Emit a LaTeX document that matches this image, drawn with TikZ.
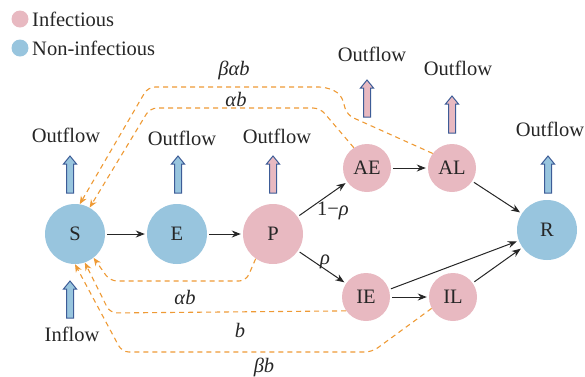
\documentclass[tikz,border=0pt]{standalone}
\usepackage{fontspec}
\setmainfont{Liberation Serif}
\usetikzlibrary{arrows.meta}
\definecolor{cblue}{HTML}{98C5DE}
\definecolor{cpink}{HTML}{E8B9C1}
\definecolor{corange}{HTML}{EE9A35}
\definecolor{cedge}{HTML}{3D5C97}
\tikzset{
  comp/.style={circle,inner sep=0pt,font=\fontsize{20.5}{24}\selectfont,text=black!85},
  big/.style={comp,minimum size=60pt},
  small/.style={comp,minimum size=48pt},
  inf/.style={fill=cpink},
  noninf/.style={fill=cblue},
  flow/.style={draw=black!85,line width=1pt,-{Stealth[length=9pt,width=7pt]},shorten >=2pt,shorten <=2pt},
  back/.style={draw=corange,line width=1.1pt,dash pattern=on 5pt off 4pt,rounded corners=7pt,-{Stealth[length=8pt,width=6.5pt]}},
  lbl/.style={font=\fontsize{20.5}{24}\selectfont,text=black!85,inner sep=0pt},
  mlbl/.style={font=\fontsize{20.5}{24}\selectfont\itshape,text=black!85,inner sep=0pt},
  harrow/.pic={\draw[draw=cedge,line width=1pt,fill=#1,line join=miter]
     (-3.5,0) -- (-3.5,-29) -- (-6.5,-29) -- (0,-37) -- (6.5,-29) -- (3.5,-29) -- (3.5,0) -- cycle;},
}
\begin{document}
\begin{tikzpicture}[x=1pt,y=-1pt]
\useasboundingbox (0,0) rectangle (585,376);
% legend
\node[circle,fill=cpink,minimum size=17pt,inner sep=0pt] (lgi) at (20,19) {};
\node[lbl,anchor=west] (lgit) at (32,19) {Infectious};
\node[circle,fill=cblue,minimum size=17pt,inner sep=0pt] (lgn) at (20,48) {};
\node[lbl,anchor=west] (lgnt) at (32,48) {Non-infectious};
% compartments
\node[big,noninf] (S) at (75,234) {S};
\node[big,noninf] (E) at (177,234) {E};
\node[big,inf] (P) at (273,234) {P};
\node[small,inf] (AE) at (367,168) {AE};
\node[small,inf] (AL) at (452,168) {AL};
\node[small,inf] (IE) at (366,297) {IE};
\node[small,inf] (IL) at (453,297) {IL};
\node[big,noninf] (R) at (547,230) {R};
% solid flows
\draw[flow] (S) -- (E);
\draw[flow] (E) -- (P);
\draw[flow] (P) -- (AE);
\draw[flow] (AE) -- (AL);
\draw[flow] (AL) -- (R);
\draw[flow] (P) -- (IE);
\draw[flow] (IE) -- (IL);
\draw[flow] (IE.18) -- (R);
\draw[flow] (IL) -- (R);
\node[lbl] (l1) at (333,211) {1−\textit{ρ}};
\node[mlbl] (l2) at (325,262) {ρ};
% dashed back flows
\draw[back] (AL.143) -- (347,115) -- (341,94) -- (326,87) -- (148,87) -- (S.81);
\draw[back] (AE.123) -- (320,108) -- (150,108) -- (S.61);
\draw[back] (P.235) -- (246,281) -- (110,281) -- (S.308);
\draw[back] (IE.215) -- (110,313) -- (S.289);
\draw[back] (IL.208) -- (372,352) -- (122,352) -- (S.270);
\node[mlbl] (b1) at (234,70) {βαb};
\node[mlbl] (b2) at (236,99) {αb};
\node[mlbl] (b3) at (185,297) {αb};
\node[mlbl] (b4) at (240,330) {b};
\node[mlbl] (b5) at (264,367) {βb};
% outflows / inflow
\pic at (70,193) {harrow=cblue};
\pic at (178,193) {harrow=cblue};
\pic at (273,193) {harrow=cpink};
\pic at (367,117) {harrow=cpink};
\pic at (452,133) {harrow=cpink};
\pic at (548,193) {harrow=cblue};
\pic at (70,318) {harrow=cblue};
\node[lbl] (o1) at (66,135) {Outflow};
\node[lbl] (o2) at (182,138) {Outflow};
\node[lbl] (o3) at (277,136) {Outflow};
\node[lbl] (o4) at (372,54) {Outflow};
\node[lbl] (o5) at (458,68) {Outflow};
\node[lbl] (o6) at (550,129) {Outflow};
\node[lbl] (in) at (72,334) {Inflow};
\end{tikzpicture}
\end{document}
